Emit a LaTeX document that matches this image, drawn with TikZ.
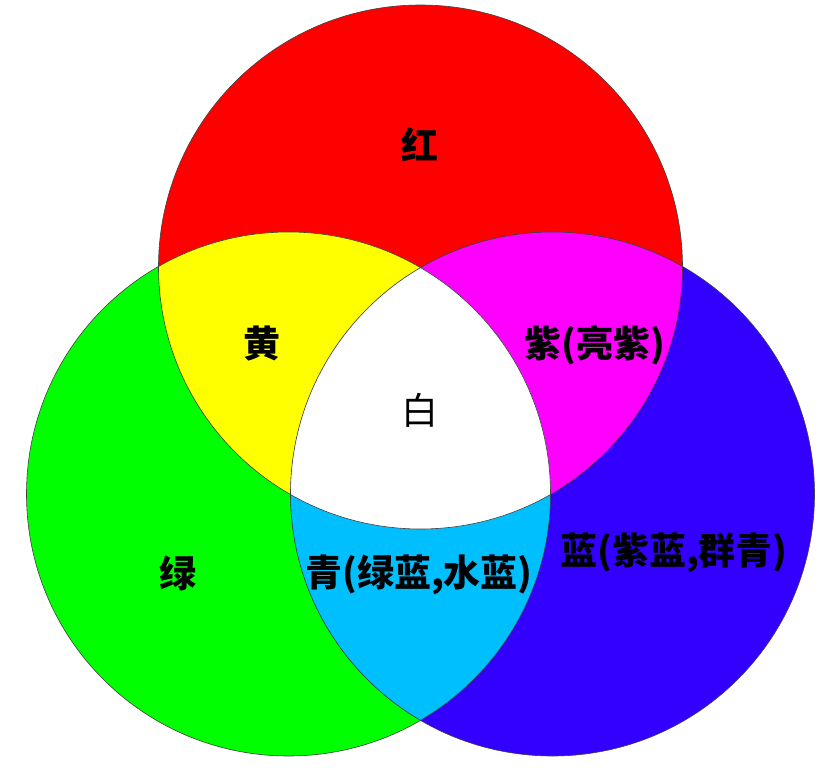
\documentclass[tikz,border=0pt]{standalone}
\usepackage{fontspec}
\newfontfamily\cjk{Noto Sans CJK SC}
\definecolor{cRed}{HTML}{FF0000}
\definecolor{cGreen}{HTML}{00FF00}
\definecolor{cBlue}{HTML}{3300FF}
\definecolor{cYellow}{HTML}{FFFF00}
\definecolor{cMagenta}{HTML}{FF00FF}
\definecolor{cCyan}{HTML}{00BFFF}
\definecolor{cEdge}{HTML}{404040}
\tikzset{
  lbl/.style={font=\cjk\bfseries\fontsize{37}{40}\selectfont, inner sep=0pt, text=black},
  lblthin/.style={font=\cjk\fontsize{37}{40}\selectfont, inner sep=0pt, text=black},
  edge/.style={draw=cEdge, line width=0.6pt}
}
\begin{document}
\begin{tikzpicture}[x=1pt,y=-1pt]
\useasboundingbox (0,0) rectangle (823,768);
\def\R{262}
\coordinate (cr) at (420.5,267);
\coordinate (cg) at (288.5,494);
\coordinate (cb) at (552.5,494);
% base fills
\fill[cRed] (cr) circle[radius=\R];
\fill[cGreen] (cg) circle[radius=\R];
\fill[cBlue] (cb) circle[radius=\R];
% pairwise overlaps
\begin{scope}
  \clip (cr) circle[radius=\R];
  \fill[cYellow] (cg) circle[radius=\R];
  \fill[cMagenta] (cb) circle[radius=\R];
\end{scope}
\begin{scope}
  \clip (cg) circle[radius=\R];
  \fill[cCyan] (cb) circle[radius=\R];
\end{scope}
\begin{scope}
  \clip (cr) circle[radius=\R];
  \clip (cg) circle[radius=\R];
  \fill[white] (cb) circle[radius=\R];
\end{scope}
% outlines
\draw[edge] (cr) circle[radius=\R];
\draw[edge] (cg) circle[radius=\R];
\draw[edge] (cb) circle[radius=\R];
% labels
\node[lbl] (hong) at (420,145) {红};
\node[lbl] (huang) at (262,343) {黄};
\node[lbl] (zi) at (595,345) {紫(亮紫)};
\node[lblthin] (bai) at (420,410) {白};
\node[lbl] (lv) at (178,573) {绿};
\node[lbl] (qing) at (419,575) {青(绿蓝,水蓝)};
\node[lbl] (lan) at (674,553) {蓝(紫蓝,群青)};
\end{tikzpicture}
\end{document}
